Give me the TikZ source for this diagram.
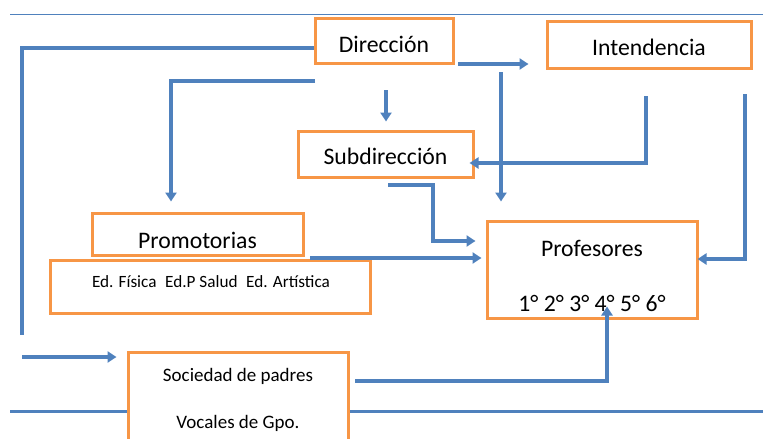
\documentclass[tikz,border=0pt]{standalone}
\usepackage{fontspec}
\setmainfont{Carlito}
\usetikzlibrary{arrows.meta}
\definecolor{lblue}{HTML}{4F81BD}
\definecolor{lorange}{HTML}{F79646}
\tikzset{
  box/.style={draw=lorange, line width=3pt, fill=white, inner sep=0pt},
  conn/.style={draw=lblue, line width=3.5pt},
  arr/.style={conn, -{Triangle[length=9pt,width=11pt]}},
  big/.style={font=\fontsize{23.7}{27}\selectfont},
}
\begin{document}
\begin{tikzpicture}[x=1pt,y=-1pt]
\useasboundingbox (0,0) rectangle (763,439);
% frame lines
\coordinate (tl) at (10,14); \coordinate (tr) at (763,14);
\draw[lblue, line width=1pt] (tl) -- (tr);
\coordinate (bl) at (10,411); \coordinate (br) at (763,411);
\draw[lblue, line width=3pt] (bl) -- (br);

% boxes
\node[box, minimum width=138pt, minimum height=45pt] (dir) at (384,40.5) {};
\node[big] (dirt) at (384,44) {Dirección};
\node[box, minimum width=204pt, minimum height=47pt] (int) at (649,44.5) {};
\node[big] (intt) at (649,47) {Intendencia};
\node[box, minimum width=175pt, minimum height=46pt] (sub) at (385.5,154) {};
\node[big] (subt) at (385.5,156) {Subdirección};
\node[box, minimum width=211pt, minimum height=42pt] (pro) at (197.5,234) {};
\node[big] (prot) at (197.5,240) {Promotorias};
\node[box, minimum width=320pt, minimum height=53pt] (ed) at (210,286.5) {};
\node[font=\fontsize{17.2}{20}\selectfont] (edt) at (211,282) {Ed. Física\enspace Ed.P Salud\enspace Ed. Artística};
\node[box, minimum width=210pt, minimum height=97pt] (prof) at (592,269.5) {};
\node[big] (proft) at (592,248) {Profesores};
\node[big] (grt) at (592,303) {1° 2° 3° 4° 5° 6°};
\node[box, minimum width=220pt, minimum height=95pt] (soc) at (238,399.5) {};
\node[font=\fontsize{19}{22}\selectfont] (soct) at (238,376) {Sociedad de padres};
\node[font=\fontsize{19}{22}\selectfont] (vot) at (238,423) {Vocales de Gpo.};

% connectors
\coordinate (a1) at (22,48); \coordinate (a2) at (22,335);
\draw[conn] (dir.west |- a1) -- (a1) -- (a2);
\coordinate (b1) at (22,357);
\draw[arr, shorten >=10pt] (b1) -- (soc.west |- b1);
\coordinate (c1) at (315,81); \coordinate (c2) at (171,81);
\draw[arr, shorten >=10pt] (c1) -- (c2) -- (c2 |- pro.north);
\coordinate (d1) at (386,90);
\draw[arr, shorten >=8pt] (d1) -- (d1 |- sub.north);
\coordinate (e1) at (458,64);
\draw[arr, shorten >=17pt] (e1) -- (int.west |- e1);
\coordinate (f1) at (501,72);
\draw[arr, shorten >=18pt] (f1) -- (f1 |- prof.north);
\coordinate (g1) at (646,96); \coordinate (g2) at (646,163);
\draw[arr, shorten >=-5pt] (g1) -- (g2) -- (sub.east |- g2);
\coordinate (h1) at (745,94); \coordinate (h2) at (745,259);
\draw[arr, shorten >=-1pt] (h1) -- (h2) -- (prof.east |- h2);
\coordinate (i1) at (388,185); \coordinate (i2) at (433,185); \coordinate (i3) at (433,241);
\draw[arr, shorten >=10pt] (i1) -- (i2) -- (i3) -- (prof.west |- i3);
\coordinate (j1) at (310,258);
\draw[arr, shorten >=4pt] (j1) -- (prof.west |- j1);
\coordinate (k1) at (355,381); \coordinate (k2) at (607,381);
\draw[arr, shorten >=-13pt] (k1) -- (k2) -- (k2 |- prof.south);
\end{tikzpicture}
\end{document}
